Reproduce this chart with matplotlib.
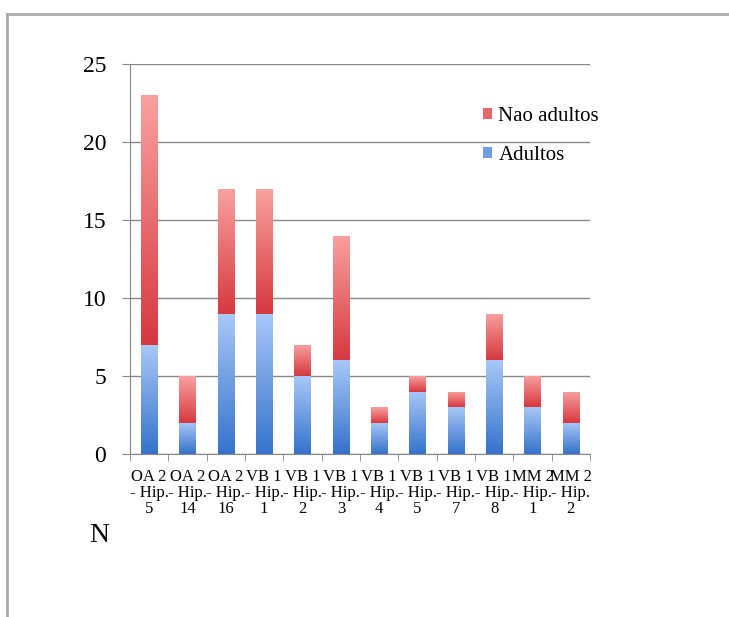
import matplotlib
matplotlib.use("Agg")
import matplotlib.pyplot as plt
from matplotlib.colors import LinearSegmentedColormap
from matplotlib.lines import Line2D
from matplotlib.patches import Patch
import numpy as np

categories = ["OA 2\n- Hip.\n5", "OA 2\n- Hip.\n14", "OA 2\n- Hip.\n16",
              "VB 1\n- Hip.\n1", "VB 1\n- Hip.\n2", "VB 1\n- Hip.\n3",
              "VB 1\n- Hip.\n4", "VB 1\n- Hip.\n5", "VB 1\n- Hip.\n7",
              "VB 1\n- Hip.\n8", "MM 2\n- Hip.\n1", "MM 2\n- Hip.\n2"]
adultos = [7, 2, 9, 9, 5, 6, 2, 4, 3, 6, 3, 2]
nao_adultos = [16, 3, 8, 8, 2, 8, 1, 1, 1, 3, 2, 2]

plt.rcParams["font.family"] = ["Liberation Serif", "DejaVu Serif"]

blue_cmap = LinearSegmentedColormap.from_list("blue", ["#3572cc", "#a8c8f7"])
red_cmap = LinearSegmentedColormap.from_list("red", ["#d6393f", "#f9a0a0"])


def gradient_bars(ax, x, heights, bottoms, cmap, width):
    bars = ax.bar(x, heights, width, bottom=bottoms, color="none", edgecolor="none")
    grad = np.linspace(0, 1, 256).reshape(-1, 1)
    for bar in bars:
        x0, y0 = bar.get_x(), bar.get_y()
        w, h = bar.get_width(), bar.get_height()
        im = ax.imshow(grad, cmap=cmap, origin="lower", aspect="auto",
                       extent=[x0, x0 + w, y0, y0 + h], zorder=2)
        im.set_clip_path(bar)
    return bars


fig = plt.figure(figsize=(7.29, 6.17), dpi=100)
ax = fig.add_axes([0.1783, 0.2642, 0.631, 0.632])

x = np.arange(len(categories))
width = 0.42
gradient_bars(ax, x, adultos, [0] * len(x), blue_cmap, width)
gradient_bars(ax, x, nao_adultos, adultos, red_cmap, width)

ax.set_xlim(-0.5, len(categories) - 0.5)
ax.set_ylim(0, 25)
ax.set_yticks(range(0, 26, 5))
ax.tick_params(axis="y", labelsize=17, length=6, color="#888888", pad=11)
ax.yaxis.grid(True, color="#888888", linewidth=1)
ax.set_axisbelow(True)

ax.set_xticks(x)
ax.set_xticklabels(categories, fontsize=12, linespacing=1.0)
ax.set_xticks(np.arange(-0.5, len(categories)), minor=True)
ax.tick_params(axis="x", which="major", length=0, pad=11)
ax.tick_params(axis="x", which="minor", length=5, color="#888888")

for side in ["top", "right"]:
    ax.spines[side].set_visible(False)
for side in ["left", "bottom"]:
    ax.spines[side].set_color("#888888")

handles = [Patch(facecolor="#e4686c", label="Nao adultos"),
           Patch(facecolor="#6f9ee6", label="Adultos")]
ax.legend(handles=handles, loc="upper left", bbox_to_anchor=(0.767, 0.889),
          frameon=False, fontsize=15, handlelength=0.42, handleheight=0.42,
          handletextpad=0.33, labelspacing=0.95, borderpad=0, borderaxespad=0)

fig.text(0.136, 0.132, "N", fontsize=20, ha="center", va="center")

# outer frame
fig.add_artist(Line2D([0.009, 1.0], [0.977, 0.977], color="#aaaaaa", linewidth=2))
fig.add_artist(Line2D([0.009, 0.009], [0.0, 0.977], color="#aaaaaa", linewidth=2))

fig.savefig("out.png", dpi=100)
